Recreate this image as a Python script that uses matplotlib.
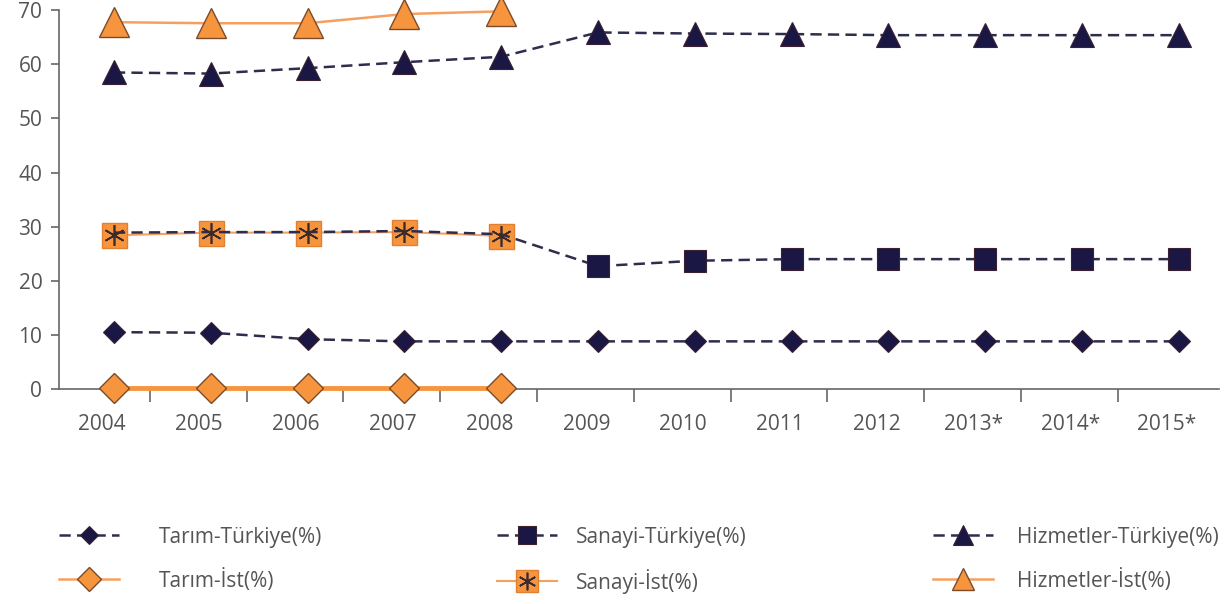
import numpy as np
import matplotlib.pyplot as plt
from matplotlib.lines import Line2D
from matplotlib.legend_handler import HandlerTuple

plt.rcParams['font.family'] = ['Open Sans', 'DejaVu Sans']

years = ['2004', '2005', '2006', '2007', '2008', '2009', '2010', '2011',
         '2012', '2013*', '2014*', '2015*']
years_ist = years[:5]

tarim_tr = [10.5, 10.4, 9.2, 8.8, 8.8, 8.8, 8.8, 8.8, 8.8, 8.8, 8.8, 8.8]
sanayi_tr = [28.9, 29.0, 29.0, 29.2, 28.6, 22.7, 23.7, 24.0, 24.0, 24.0, 24.0, 24.0]
hizmet_tr = [58.5, 58.3, 59.3, 60.4, 61.4, 65.9, 65.7, 65.6, 65.4, 65.4, 65.4, 65.4]

tarim_ist = [0.2, 0.2, 0.2, 0.2, 0.2]
sanayi_ist = [28.4, 28.9, 28.9, 29.0, 28.3]
hizmet_ist = [67.8, 67.6, 67.6, 69.3, 69.8]

navy = '#1b1745'
dash_col = '#2e2d4d'
orange = '#f7953f'
orange_line = '#f6a060'
edge_tr = '#3a2030'
edge_ist = '#7a4a2a'
text_col = '#555555'

x = np.arange(len(years))
xi = np.arange(len(years_ist))

fig = plt.figure(figsize=(12.28, 6.04), dpi=100)
ax = fig.add_axes([0.048, 0.356, 0.9446, 0.627])

dash = (0, (4.5, 2.5))
# Istanbul series
h_ti, = ax.plot(xi, tarim_ist, color=orange, lw=3.5, marker='D', ms=15,
                mfc=orange, mec=edge_ist, mew=1.0, zorder=3)
h_si_line, = ax.plot(xi, sanayi_ist, color=orange_line, lw=1.5, marker='s', ms=18,
                     mfc=orange, mec='#e08030', mew=1.0, zorder=2)
h_si_star, = ax.plot(xi, sanayi_ist, ls='none', marker=(6, 2, 0), ms=15,
                     mec='#3a2a2a', mew=1.2, zorder=5)
h_hi, = ax.plot(xi, hizmet_ist, color=orange_line, lw=1.8, marker='^', ms=21,
                mfc=orange, mec=edge_ist, mew=1.0, zorder=3)

# Turkey series
h_tt, = ax.plot(x, tarim_tr, color=dash_col, lw=1.8, ls=dash, marker='D', ms=11,
                mfc=navy, mec=edge_tr, mew=0.8, zorder=4)
h_st, = ax.plot(x, sanayi_tr, color=dash_col, lw=1.8, ls=dash, marker='s', ms=16,
                mfc=navy, mec=edge_tr, mew=0.8, zorder=3.5,
                markevery=list(range(5, len(years))))
h_ht, = ax.plot(x, hizmet_tr, color=dash_col, lw=1.8, ls=dash, marker='^', ms=17,
                mfc=navy, mec=edge_tr, mew=0.8, zorder=4)

ax.set_xlim(-0.568, 11.415)
ax.set_ylim(0, 70)
ax.set_yticks(np.arange(0, 71, 10))
# labels sit in the middle of each category slot, slightly left of the points
ax.set_xticks(x - 0.12)
ax.set_xticklabels(years)
ax.set_xticks(np.arange(len(years) - 1) + 0.37, minor=True)
ax.tick_params(axis='x', which='major', length=0, pad=18, labelsize=15, labelcolor=text_col)
ax.tick_params(axis='x', which='minor', length=9, width=1.2, color='#666666', direction='out')
ax.tick_params(axis='y', length=6, width=1.2, color='#666666', labelsize=15,
               labelcolor=text_col, pad=6)
for s in ['top', 'right']:
    ax.spines[s].set_visible(False)
for s in ['left', 'bottom']:
    ax.spines[s].set_color('#666666')
    ax.spines[s].set_linewidth(1.2)
for ln in ax.lines:
    ln.set_clip_on(False)

# legend proxies: thin line for the Istanbul entries like the reference legend
leg_ti = Line2D([], [], color=orange_line, lw=1.8, marker='D', ms=14,
                mfc=orange, mec=edge_ist, mew=1.0)
leg_hi = Line2D([], [], color=orange_line, lw=1.8, marker='^', ms=18,
                mfc=orange, mec=edge_ist, mew=1.0)

columns = [
    ([h_tt, leg_ti], ['Tarım-Türkiye(%)', 'Tarım-İst(%)'], 59, 1.9),
    ([h_st, (h_si_line, h_si_star)], ['Sanayi-Türkiye(%)', 'Sanayi-İst(%)'], 497, 0.9),
    ([h_ht, leg_hi], ['Hizmetler-Türkiye(%)', 'Hizmetler-İst(%)'], 933, 1.15),
]
for hs, labs, xpx, pad in columns:
    leg = fig.legend(hs, labs, loc='upper left', bbox_to_anchor=(xpx / 1228, 0.128),
                     frameon=False, fontsize=15, handlelength=2.9, handletextpad=pad,
                     labelspacing=1.0, markerscale=0.85, borderpad=0, borderaxespad=0,
                     handler_map={tuple: HandlerTuple(ndivide=1, pad=0)})
    for t in leg.get_texts():
        t.set_color(text_col)

fig.savefig('out.png', dpi=100)
